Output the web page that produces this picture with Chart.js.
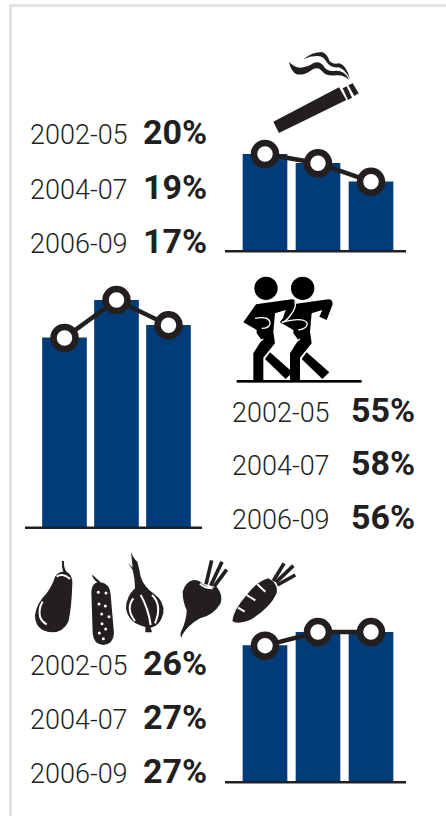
<!DOCTYPE html>
<html>
<head>
<meta charset="utf-8">
<title>Smoking, activity and vegetables</title>
<script src="https://cdn.jsdelivr.net/npm/chart.js@4"></script>
<style>
	html, body { margin: 0; padding: 0; background: #fff; }
	body { position: relative; width: 446px; height: 816px; overflow: hidden; font-family: Roboto, sans-serif; }
	#frame { position: absolute; left: 9px; top: 4px; right: -5px; bottom: -5px; border: 3px solid #e3e4df; }
	canvas { position: absolute; }
	#art { position: absolute; left: 0; top: 0; }
	#art text { fill: #231f20; }
	.period { font-size: 27px; font-weight: 300; }
	.share { font-size: 34px; font-weight: 700; }
</style>
</head>
<body>
<div id="frame"></div>

<svg id="art" width="446" height="816" viewBox="0 0 446 816">
	<!-- cigarette -->
	<g transform="translate(220 30) scale(0.33333)" fill="#231f20">
		<path d="M160 275 L357 172 L379 210 L177 309 Z"/>
		<path d="M368 175 L380 169 L396 203 L384 210 Z"/>
		<path d="M385 166 L398 160 L416 190 L403 198 Z"/>
		<path d="M207 95 Q222 112 240 113 Q262 112 282 98 Q302 92 312 110 Q322 126 348 122 Q376 122 388 150 Q372 134 348 136 Q318 140 305 122 Q292 108 272 122 Q248 138 228 132 Q212 122 207 95 Z"/>
		<path d="M250 88 Q276 66 306 66 Q322 72 328 92 Q338 104 358 100 Q380 106 390 148 Q376 118 356 112 Q330 114 320 96 Q310 76 290 78 Q270 78 250 88 Z"/>
	</g>

	<!-- runners -->
	<g transform="translate(220 265) scale(0.33333)">
		<g fill="#000">
			<circle cx="138" cy="70" r="35"/>
			<path d="M108 118 L215 103 Q228 103 228 118 L212 165 L190 155 L197 135 L165 145 L160 200 L165 235 L130 278 L130 345 L100 345 L100 265 L125 225 L110 205 L110 195 L70 172 Z"/>
			<path d="M150 262 L218 322 L197 342 L135 282 Z"/>
		</g>
		<g fill="#000">
			<circle cx="248" cy="70" r="35"/>
			<path d="M218 118 L325 103 Q338 103 338 118 L320 165 L298 155 L307 135 L275 145 L270 200 L275 235 L240 278 L240 345 L210 345 L210 265 L235 225 L220 205 L220 195 L180 172 Z"/>
			<path d="M260 262 L328 322 L307 342 L245 282 Z"/>
		</g>
		<g fill="none" stroke="#fff" stroke-width="4">
			<path d="M105 160 Q150 152 150 175 Q148 190 125 190"/>
			<path d="M186 172 Q250 155 262 175 Q262 192 235 195"/>
			<path d="M224 108 Q232 125 212 150 Q198 170 186 172"/>
			<path d="M105 240 L130 222"/>
			<path d="M215 240 L240 222"/>
		</g>
		<rect x="50" y="345" width="375" height="8" fill="#000"/>
	</g>

	<!-- vegetables -->
	<g transform="translate(20 545) scale(0.33333)" fill="#231f20">
		<path d="M126 48 L132 48 Q130 68 140 80 Q158 90 157 115 Q155 190 145 230 Q130 262 95 262 Q45 258 45 210 Q50 175 80 145 Q100 115 105 95 Q115 80 130 80 Q124 65 126 48 Z"/>
		<path d="M218 90 L242 112 Q270 115 272 150 L282 265 Q280 298 250 300 Q220 298 218 265 L214 140 Q215 118 232 112 Q222 105 216 92 Z"/>
		<path d="M333 20 Q340 40 352 50 L358 75 L362 95 Q372 125 400 145 Q435 170 430 205 Q420 245 392 248 L396 262 L376 262 L376 246 Q325 235 318 190 Q318 155 345 130 Q345 100 338 75 L325 55 L338 68 Z"/>
		<path d="M520 105 Q540 105 548 118 Q570 132 590 125 Q610 150 602 175 Q580 212 540 220 Q505 240 488 268 Q482 280 486 282 Q478 268 484 258 Q500 225 500 195 Q488 170 488 140 Q495 112 520 105 Z"/>
		<path d="M745 100 Q775 115 770 145 Q750 190 690 225 Q650 240 637 228 Q640 195 680 150 Q710 110 745 100 Z"/>
		<g fill="none" stroke="#231f20" stroke-width="11">
			<path d="M558 118 L575 46"/>
			<path d="M572 122 L606 50"/>
			<path d="M582 125 L620 74"/>
			<path d="M760 108 L792 55"/>
			<path d="M768 112 L820 62"/>
			<path d="M772 120 L826 90"/>
		</g>
		<g fill="#fff">
			<circle cx="235" cy="142" r="4.5"/><circle cx="258" cy="144" r="4.5"/>
			<circle cx="237" cy="177" r="4.5"/><circle cx="256" cy="183" r="4.5"/>
			<circle cx="245" cy="207" r="4.5"/><circle cx="267" cy="215" r="4.5"/>
			<circle cx="246" cy="236" r="4.5"/><circle cx="257" cy="252" r="4.5"/>
			<circle cx="238" cy="264" r="4.5"/><circle cx="250" cy="281" r="4.5"/>
		</g>
		<g fill="none" stroke="#fff" stroke-width="6">
			<path d="M68 170 Q55 190 60 215 Q65 230 80 238"/>
			<path d="M110 95 Q128 82 150 102"/>
			<path d="M362 150 Q385 190 392 240"/>
			<path d="M396 150 Q428 180 405 235"/>
			<path d="M340 160 Q316 190 345 228"/>
			<path d="M540 116 Q552 130 578 130"/>
			<path d="M712 118 L736 140"/>
			<path d="M680 150 L706 166"/>
			<path d="M654 188 L674 200"/>
		</g>
	</g>
</svg>

<canvas id="smoke"></canvas>
<canvas id="walk"></canvas>
<canvas id="veg"></canvas>

<script>
var periods = ["2002-05", "2004-07", "2006-09"];
var smokers = [20, 19, 17];
var active = [55, 58, 56];
var vegetables = [26, 27, 27];

var INK = "#231f20";
var BLUE = "#023c78";

// Rule under the bars, wider than the plot area on both sides
var baseline = {
	id: "baseline",
	afterDatasetsDraw: function(chart, args, opts) {
		var c = chart.ctx;
		var y = chart.chartArea.bottom;
		c.save();
		c.fillStyle = INK;
		c.fillRect(opts.from, y - 1, opts.to - opts.from, 2.5);
		c.restore();
	}
};

function make_chart(id, box, values, axis) {
	var el = document.getElementById(id);
	el.style.left = box.x + "px";
	el.style.top = box.y + "px";
	el.width = box.w;
	el.height = box.h;
	el.style.width = box.w + "px";
	el.style.height = box.h + "px";

	return new Chart(el.getContext("2d"), {
		type: "bar",
		data: {
			labels: periods,
			datasets: [{
				type: "line",
				data: values,
				order: 0,
				clip: false,
				borderColor: INK,
				borderWidth: 4.5,
				tension: 0,
				pointRadius: 11,
				pointBorderWidth: 6.5,
				pointBackgroundColor: "#fff",
				pointBorderColor: INK
			}, {
				type: "bar",
				data: values,
				order: 1,
				backgroundColor: BLUE,
				barThickness: 44
			}]
		},
		plugins: [baseline],
		options: {
			responsive: false,
			animation: false,
			events: [],
			// the markers overhang the plot area, keep them from shrinking it
			layout: { autoPadding: false, padding: box.padding },
			plugins: {
				legend: { display: false },
				tooltip: { enabled: false },
				baseline: { from: box.ruleFrom, to: box.ruleTo }
			},
			scales: {
				x: { display: false },
				y: { display: false, min: axis.min, max: axis.max }
			}
		}
	});
}

make_chart("smoke", { x: 220, y: 60, w: 200, h: 200, ruleFrom: 5, ruleTo: 186,
	padding: { left: 18.5, right: 22.5, top: 94, bottom: 9 } }, smokers, { min: 9.5, max: 20 });

make_chart("walk", { x: 15, y: 270, w: 200, h: 270, ruleFrom: 10, ruleTo: 187,
	padding: { left: 23.5, right: 20.5, top: 30, bottom: 12.5 } }, active, { min: 40, max: 58 });

make_chart("veg", { x: 220, y: 600, w: 200, h: 195, ruleFrom: 5, ruleTo: 186,
	padding: { left: 18.5, right: 22.5, top: 32, bottom: 13 } }, vegetables, { min: 16, max: 27 });

// Period and percentage labels beside each chart
function add_text(x, y, cls, str) {
	var t = document.createElementNS("http://www.w3.org/2000/svg", "text");
	t.setAttribute("x", x);
	t.setAttribute("y", y);
	t.setAttribute("class", cls);
	t.textContent = str;
	document.getElementById("art").appendChild(t);
}

function add_rows(x1, x2, rows, values) {
	for (var i = 0; i < periods.length; i++) {
		add_text(x1, rows[i], "period", periods[i]);
		add_text(x2, rows[i], "share", values[i] + "%");
	}
}

add_rows(30, 143, [144, 199, 253], smokers);
add_rows(232, 351, [422, 475, 529], active);
add_rows(30, 143, [675, 729, 783], vegetables);
</script>
</body>
</html>
